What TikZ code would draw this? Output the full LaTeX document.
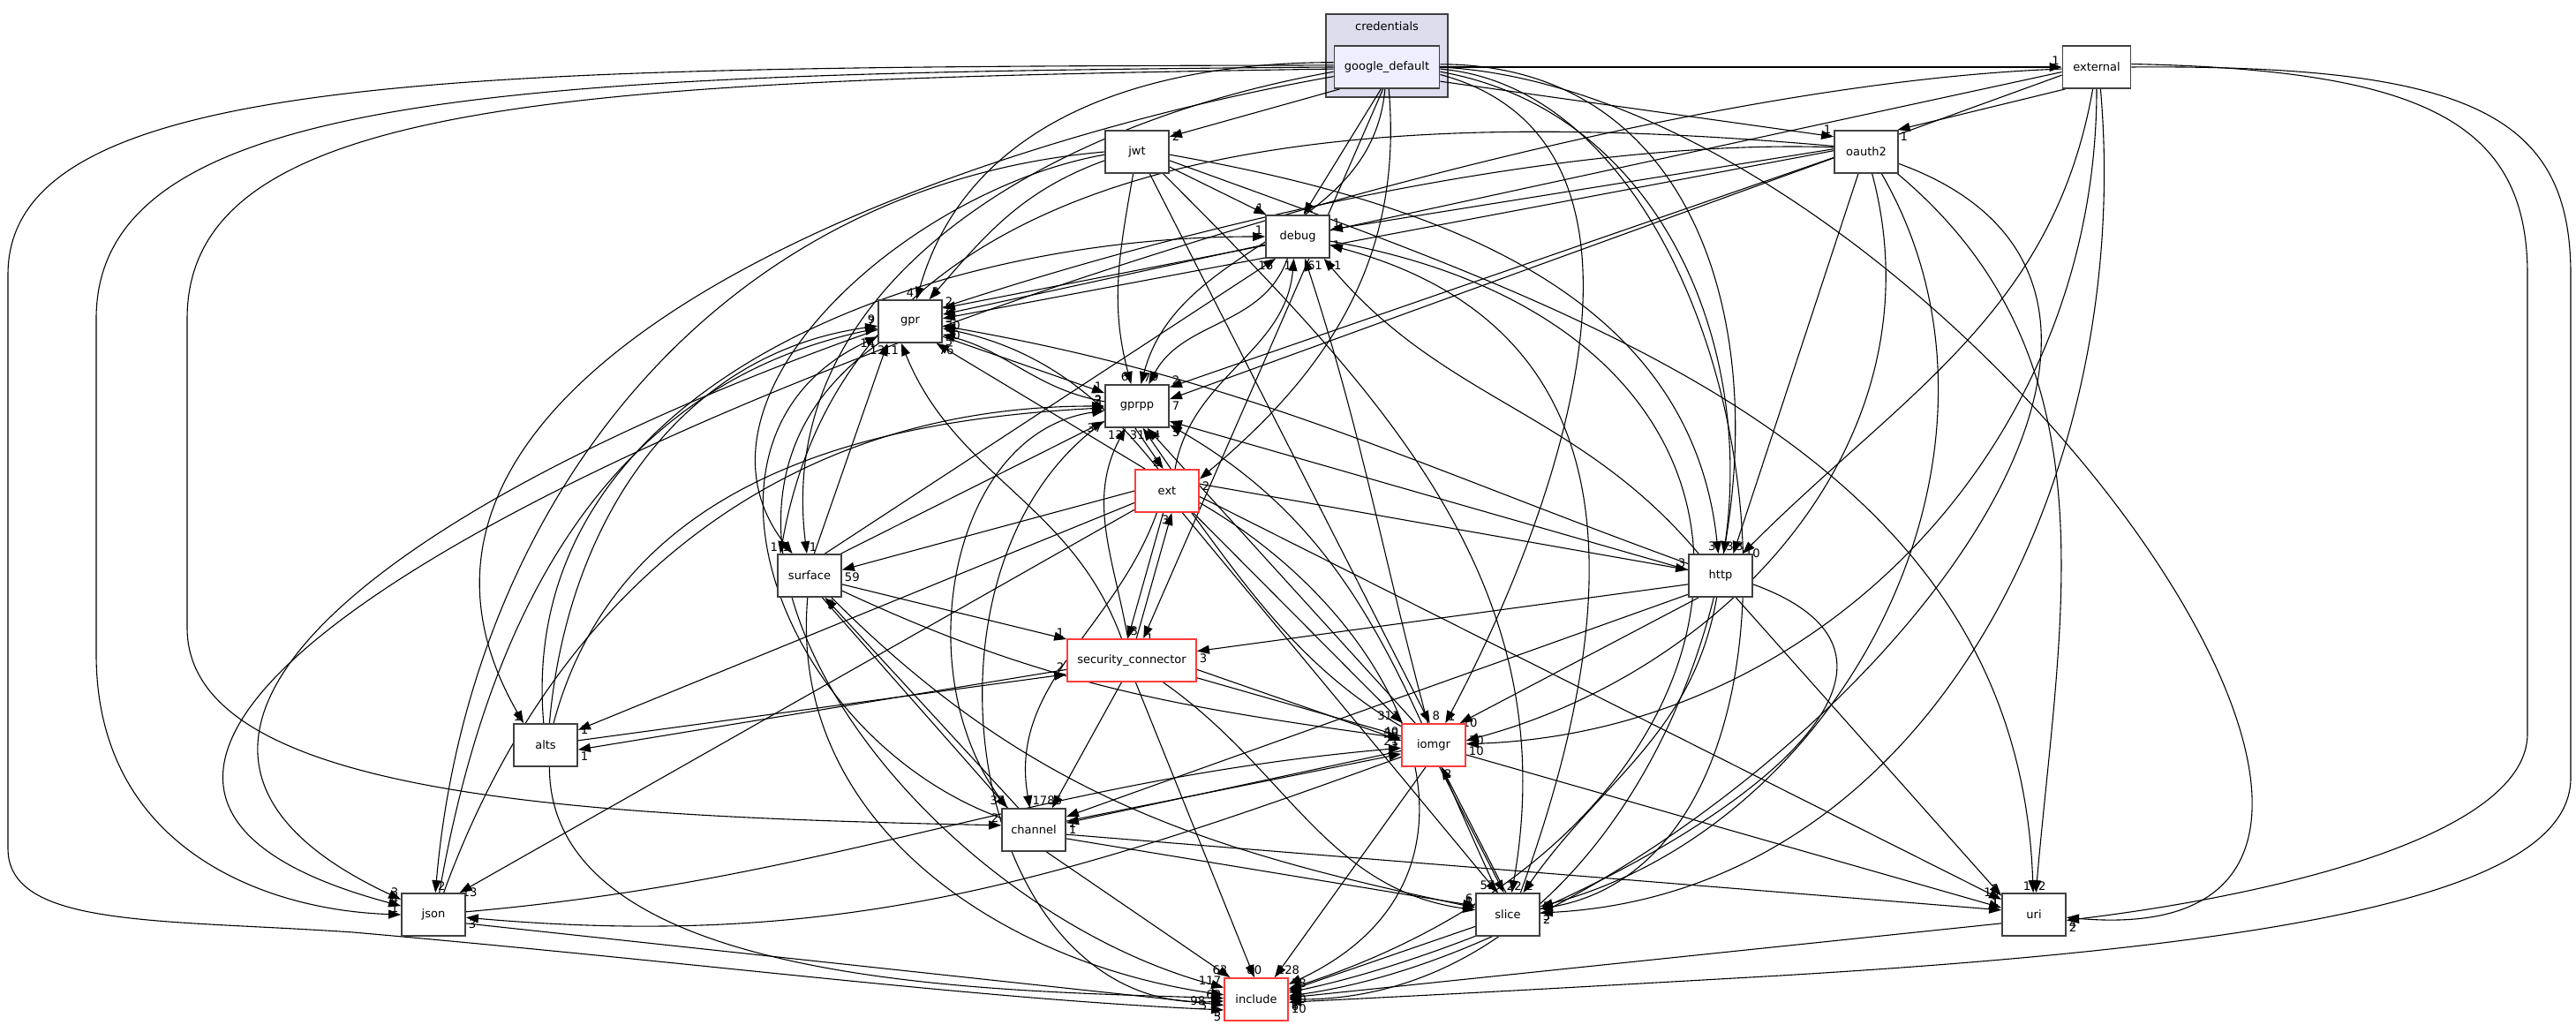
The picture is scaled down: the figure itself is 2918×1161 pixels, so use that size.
\documentclass[tikz,border=0pt]{standalone}
\usepackage{fontspec}
\setmainfont{DejaVu Sans}
\newfontfamily\dvc{DejaVu Sans}
\usetikzlibrary{arrows.meta}
\definecolor{bord}{HTML}{404040}
\definecolor{redb}{HTML}{FF3B3B}
\definecolor{clfill}{HTML}{DDDDEE}
\definecolor{gdfill}{HTML}{EEEEFF}
\pgfdeclarelayer{bgl}
\pgfdeclarelayer{edl}
\pgfsetlayers{bgl,edl,main}
\begin{document}
\begin{tikzpicture}[x=0.5pt,y=0.5pt,
  box/.style={draw=bord,line width=0.9pt,fill=white,minimum width=36pt,minimum height=24pt,inner sep=1pt,font=\dvc\fontsize{6.5}{7.5}\selectfont},
  rbox/.style={box,draw=redb},
  ed/.style={draw=black,line width=0.55pt,-{Triangle[length=7pt,width=5pt]}},
  hl/.style={font=\dvc\fontsize{6.6}{7.5}\selectfont,inner sep=1.2pt},
  lse/.style={hl,pos=1,anchor=south east},
  lsw/.style={hl,pos=1,anchor=south west},
  lne/.style={hl,pos=1,anchor=north east},
  lnw/.style={hl,pos=1,anchor=north west},
  lw/.style={hl,pos=1,anchor=west},
  le/.style={hl,pos=1,anchor=east},
  ls/.style={hl,pos=1,anchor=south}]
\useasboundingbox (0,0) rectangle (2918,1161);
\begin{pgfonlayer}{bgl}
\fill[white] (0,0) rectangle (2918,1161);
\node[draw=bord,line width=0.8pt,fill=clfill,minimum width=69pt,minimum height=47pt,inner sep=0pt] (cl) at (1571,1098) {};
\node[font=\dvc\fontsize{6.5}{7.5}\selectfont] (cllab) at (1571,1131) {credentials};
\end{pgfonlayer}
% nodes
\node[box,fill=gdfill,minimum width=59.5pt] (G) at (1571,1085) {google\_default};
\node[box,minimum width=38.5pt] (X) at (2375,1085) {external};
\node[box] (O) at (2114,989) {oauth2};
\node[box] (J) at (1288,989) {jwt};
\node[box] (D) at (1470,893) {debug};
\node[box] (P) at (1031,797) {gpr};
\node[box] (PP) at (1288,701) {gprpp};
\node[rbox] (E) at (1322,605) {ext};
\node[box] (S) at (917,509) {surface};
\node[box] (H) at (1949,509) {http};
\node[rbox,minimum width=73pt] (SC) at (1282,413) {security\_connector};
\node[box] (A) at (618,317) {alts};
\node[rbox] (I) at (1624,317) {iomgr};
\node[box] (C) at (1171,221) {channel};
\node[box] (JS) at (491,125) {json};
\node[box] (SL) at (1708,125) {slice};
\node[box] (U) at (2304,125) {uri};
\node[rbox] (IN) at (1423,29) {include};
\begin{pgfonlayer}{edl}
% google_default
\draw[ed] (G) -- node[lse]{1} (X);
\draw[ed] (G.-15) -- node[lse]{1} (O.155);
\draw[ed] (G.205) -- node[lw]{2} (J.25);
\draw[ed] (G.-105) -- node[lsw]{1} (D.75);
\draw[ed] (G.-95) to[out=-95,in=75] node[lsw]{7} (PP.80);
\draw[ed] (G.-85) to[out=-85,in=40] node[lnw]{2} (E.20);
\draw[ed] (G.-100) -- node[lw]{1} (SC.62);
\draw[ed] (G.185) to[out=190,in=97] node[lsw]{1} (S.97);
\draw[ed] (G.175) to[out=180,in=74] node[lse]{4} (P.74);
\draw[ed] (G.190) to[out=190,in=120] node[lse]{1} (A.135);
\draw[ed] (G.180) .. controls (600,1078) and (109,1062) .. (109,800) -- (109,420) .. controls (109,200) and (300,130) .. (JS.180) node[hl,anchor=south east]{1};
\draw[ed] (G.182) .. controls (650,1070) and (212,1050) .. (212,800) -- (212,450) .. controls (212,260) and (650,236) .. (C.172) node[hl,anchor=south east]{2};
\draw[ed] (G.178) .. controls (550,1085) and (9,1085) .. (9,850) -- (9,200) .. controls (9,110) and (180,120) .. (400,105) .. controls (800,70) and (1100,30) .. (IN.198) node[hl,anchor=north east]{5};
\draw[ed] (G.-5) to[out=-10,in=82] node[lsw]{3} (H.82);
\draw[ed] (G.-8) to[out=-15,in=62] node[lsw]{1} (I.62);
\draw[ed] (G.-2) to[out=-5,in=10] node[lnw]{3} (SL.10);
\draw[ed] (G.0) to[out=-3,in=-5,looseness=1.2] node[lnw]{4} (U.-5);
\draw[ed] (G.3) to[out=0,in=0,looseness=1.3] node[lnw]{6} (IN.0);
% external
\draw[ed] (X.-145) -- node[lnw]{1} (O.35);
\draw[ed] (X.188) -- node[lsw]{2} (P.12);
\draw[ed] (X.193) -- node[lnw]{7} (PP.12);
\draw[ed] (X.-100) to[out=-100,in=45] node[lw]{10} (H.45);
\draw[ed] (X.-90) to[out=-90,in=2] node[lnw]{10} (I.2);
\draw[ed] (X.-80) to[out=-85,in=3] node[lnw]{2} (SL.3);
\draw[ed] (X.5) .. controls (2750,1082) and (2863,1020) .. (2863,850) -- (2863,330) .. controls (2863,220) and (2600,150) .. (U.-10) node[hl,anchor=north west]{2};
\draw[ed] (X.0) .. controls (2800,1088) and (2912,1030) .. (2912,850) -- (2912,280) .. controls (2912,150) and (2600,90) .. (2000,55) .. controls (1700,38) .. (IN.-5) node[hl,anchor=north west]{10};
\draw[ed] (X.183) to[out=182,in=165] node[lse]{4} (JS.165);
% oauth2
\draw[ed] (O.175) -- node[lsw]{1} (D.12);
\draw[ed] (O.178) -- node[lw]{3} (P.5);
\draw[ed] (O.190) -- node[lsw]{2} (PP.30);
\draw[ed] (O.170) to[out=175,in=80] node[lse]{1} (S.143);
\draw[ed] (O.172) to[out=178,in=155] node[lse]{3} (JS.155);
\draw[ed] (O.-110) -- node[lsw]{3} (H.60);
\draw[ed] (O.-75) to[out=-75,in=15] node[lw]{30} (I.8);
\draw[ed] (O.-55) to[out=-60,in=15] node[lw]{5} (SL.14);
\draw[ed] (O.-35) to[out=-40,in=85] node[lsw]{2} (U.85);
\draw[ed] (O.-20) to[out=-20,in=8,looseness=1.1] node[lnw]{1} (IN.6);
% jwt
\draw[ed] (J.-25) -- node[lse]{1} (D.145);
\draw[ed] (J.195) to[out=200,in=49] node[lsw]{3} (P.49);
\draw[ed] (J.185) to[out=190,in=128] node[lse]{1} (S.128);
\draw[ed] (J.180) to[out=185,in=85] node[lsw]{2} (JS.85);
\draw[ed] (J.-5) to[out=-10,in=96] node[lse]{3} (H.96);
\draw[ed] (J.-60) -- node[lsw]{8} (I.100);
\draw[ed] (J.-15) to[out=-20,in=92] node[lse]{1} (U.92);
\draw[ed] (J.-40) to[out=-45,in=80] node[lsw]{2} (SL.80);
\draw[ed] (J.-100) to[out=-100,in=105] node[lse]{6} (PP.105);
% debug
\draw[ed] (D.195) -- node[lsw]{2} (P.22);
\draw[ed] (D.-115) to[out=-110,in=62] node[lsw]{9} (PP.62);
\draw[ed] (D.-8) to[out=-10,in=18,looseness=1.8] node[lnw]{1} (IN.18);
% gpr
\draw[ed] (P.-25) -- node[lse]{1} (PP.158);
\draw[ed] (P.215) to[out=215,in=165,looseness=1.1] node[lse]{117} (IN.160);
% gprpp
\draw[ed] (PP.172) to[out=170,in=-15] node[lnw]{5} (P.-22);
\draw[ed] (PP.-95) -- node[lse]{2} (E.100);
\draw[ed] (PP.205) to[out=215,in=183,looseness=1.1] node[hl,pos=1,anchor=east,xshift=-9pt]{98} (IN.183);
% ext
\draw[ed] (E.135) -- node[lnw]{76} (P.-40);
\draw[ed] (E.80) -- node[lnw]{14} (PP.-75);
\draw[ed] (E.70) to[out=80,in=-95] node[lne]{1} (D.-100);
\draw[ed] (E.180) -- node[lnw]{59} (S.10);
\draw[ed] (E.12) -- node[lse]{3} (H.170);
\draw[ed] (E.-100) -- node[lsw]{3} (SC.100);
\draw[ed] (E.200) -- node[lw]{1} (A.25);
\draw[ed] (E.-40) -- node[lse]{311} (I.145);
\draw[ed] (E.-115) to[out=-110,in=100] node[lsw]{178} (C.100);
\draw[ed] (E.210) -- node[lw]{13} (JS.40);
\draw[ed] (E.-55) -- node[lse]{53} (SL.115);
\draw[ed] (E.-10) -- node[lse]{16} (U.155);
\draw[ed] (E.-20) to[out=-30,in=25,looseness=1.3] node[lnw]{2} (IN.25);
% surface
\draw[ed] (S.55) -- node[lne]{16} (D.225);
\draw[ed] (S.78) -- node[lne]{13} (P.-136);
\draw[ed] (S.35) -- node[lne]{37} (PP.205);
\draw[ed] (S.-15) -- node[lse]{1} (SC.162);
\draw[ed] (S.-25) to[out=-25,in=172] node[lse]{40} (I.168);
\draw[ed] (S.-60) -- node[lse]{37} (C.140);
\draw[ed] (S.-45) to[out=-45,in=168] node[lse]{1} (SL.168);
\draw[ed] (S.-95) to[out=-95,in=172] node[hl,pos=1,anchor=east]{63} (IN.172);
% http
\draw[ed] (H.135) to[out=130,in=-50] node[lnw]{11} (D.-40);
\draw[ed] (H.160) to[out=160,in=-10] node[lw]{20} (P.-8);
\draw[ed] (H.170) -- node[lnw]{5} (PP.-25);
\draw[ed] (H.195) -- node[lnw]{3} (SC.8);
\draw[ed] (H.-135) -- node[lw]{10} (I.40);
\draw[ed] (H.-150) -- node[lnw]{1} (C.22);
\draw[ed] (H.-100) to[out=-100,in=55] node[lsw]{2} (SL.55);
\draw[ed] (H.-55) -- node[lse]{1} (U.150);
\draw[ed] (H.-15) to[out=-20,in=12,looseness=1.2] node[lnw]{20} (IN.12);
% security_connector
\draw[ed] (SC.115) to[out=110,in=-68] node[lne]{11} (P.-112);
\draw[ed] (SC.100) to[out=100,in=-118] node[lne]{13} (PP.-118);
\draw[ed] (SC.78) -- node[lne]{3} (E.-78);
\draw[ed] (SC.188) -- node[lnw]{1} (A.-8);
\draw[ed] (SC.-8) -- node[lse]{38} (I.172);
\draw[ed] (SC.-115) -- node[lsw]{5} (C.50);
\draw[ed] (SC.-35) to[out=-35,in=172] node[lse]{5} (SL.172);
\draw[ed] (SC.-15) -- node[lse]{1} (U.168);
\draw[ed] (SC.-80) -- node[ls]{80} (IN.95);
% alts
\draw[ed] (A.95) to[out=95,in=180] node[lse]{1} (D.180);
\draw[ed] (A.80) to[out=85,in=188] node[lse]{9} (P.188);
\draw[ed] (A.70) to[out=75,in=183] node[lse]{2} (PP.183);
\draw[ed] (A.8) -- node[lse]{2} (SC.192);
\draw[ed] (A.-80) to[out=-90,in=178,looseness=0.8] node[hl,pos=1,anchor=north east,xshift=-8pt]{3} (IN.178);
% iomgr
\draw[ed] (I.105) to[out=105,in=-72] node[lnw]{61} (D.-72);
\draw[ed] (I.130) -- node[lne]{31} (PP.-65);
\draw[ed] (I.150) to[out=150,in=-12] node[lnw]{30} (P.-12);
\draw[ed] (I.190) -- node[lnw]{1} (C.12);
\draw[ed] (I.200) to[out=200,in=-5] node[lnw]{3} (JS.-5);
\draw[ed] (I.-75) -- node[lsw]{2} (SL.100);
\draw[ed] (I.-110) -- node[lsw]{128} (IN.50);
% channel
\draw[ed] (C.160) to[out=160,in=205,looseness=1.2] node[lne]{14} (P.205);
\draw[ed] (C.140) to[out=130,in=188] node[lse]{2} (PP.188);
\draw[ed] (C.125) -- node[lnw]{2} (S.-55);
\draw[ed] (C.15) -- node[lse]{3} (I.195);
\draw[ed] (C.-15) -- node[lse]{6} (SL.165);
\draw[ed] (C.-8) -- node[lse]{1} (U.172);
\draw[ed] (C.-60) -- node[lse]{63} (IN.140);
% json
\draw[ed] (JS.75) to[out=80,in=192] node[lse]{7} (P.192);
\draw[ed] (JS.65) to[out=70,in=180] node[lse]{2} (PP.180);
\draw[ed] (JS.5) to[out=5,in=185] node[lse]{21} (I.185);
\draw[ed] (JS.-15) -- node[hl,pos=1,anchor=north east]{3} (IN.190);
% slice
\draw[ed] (SL.60) to[out=70,in=-15,looseness=1.2] node[lw]{1} (D.-15);
\draw[ed] (SL.115) to[out=115,in=-30] node[lnw]{3} (PP.-30);
\draw[ed] (SL.200) -- node[lsw]{38} (IN.15);
\draw[ed] (SL.95) -- node[lnw]{2} (I.-70);
% uri
\draw[ed] (U.195) -- node[lnw]{2} (IN.3);
\end{pgfonlayer}
\end{tikzpicture}
\end{document}
